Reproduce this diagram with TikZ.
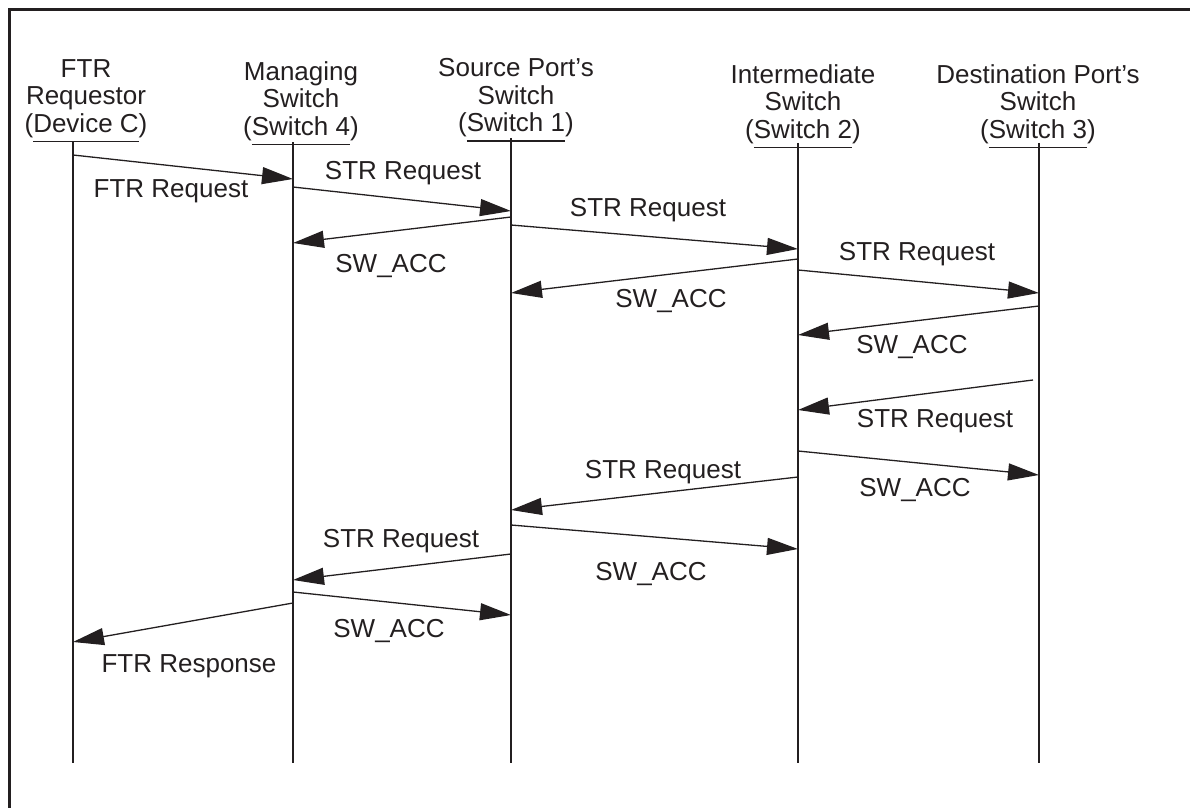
\documentclass[tikz,border=0pt]{standalone}
\usepackage{fontspec}
\setmainfont{Liberation Sans}
\usetikzlibrary{arrows.meta}
\definecolor{ink}{HTML}{231F20}
\newcommand{\undl}[1]{\setbox0\hbox{#1}\rlap{\rule[-5pt]{\wd0}{0.6pt}}\box0}

\begin{document}
\begin{tikzpicture}[x=0.5pt,y=-0.5pt,color=ink,
    head/.style={anchor=north,align=center,inner sep=0pt,font=\fontsize{13}{13.75}\selectfont},
    lbl/.style={anchor=base,inner sep=0pt,font=\fontsize{13}{13.75}\selectfont},
    life/.style={line width=0.65pt},
    msg/.style={line width=0.65pt,-{Triangle[length=15.5pt,width=8.5pt]}}]
  \useasboundingbox (0,0) rectangle (1190,808);
  \draw [line width=1.5pt] (9,812) -- (9,10) -- (1194,10);

  \node [head] (hdev) at (86,59) {FTR\\Requestor\\(\undl{Device C})};
  \node [head] (hsw4) at (301,61) {Managing\\Switch\\(\undl{Switch 4})};
  \node [head] (hsw1) at (516,58) {Source Port's\\Switch\\(\undl{Switch 1})};
  \node [head] (hsw2) at (803,64) {Intermediate\\Switch\\(\undl{Switch 2})};
  \node [head] (hsw3) at (1038,64) {Destination Port's\\Switch\\(\undl{Switch 3})};

  \coordinate (dev) at (73,142.5);
  \coordinate (sw4) at (293,142.5);
  \coordinate (sw1) at (511,138);
  \coordinate (sw2) at (798,143);
  \coordinate (sw3) at (1039,143);
  \coordinate (bot) at (0,763);
  \foreach \n in {dev,sw4,sw1,sw2,sw3}
    \draw [life] (\n) -- (\n |- bot);

  \draw [msg] (dev |- 0,155) -- (sw4 |- 0,179);
  \node [lbl] (l1) at (171,198) {FTR Request};
  \draw [msg] (sw4 |- 0,187) -- (sw1 |- 0,211);
  \node [lbl] (l2) at (403,180) {STR Request};
  \draw [msg] (sw1 |- 0,217) -- (sw4 |- 0,243);
  \node [lbl] (l3) at (391,272) {SW\_ACC};
  \draw [msg] (sw1 |- 0,225) -- (sw2 |- 0,249);
  \node [lbl] (l4) at (648,217) {STR Request};
  \draw [msg] (sw2 |- 0,259) -- (sw1 |- 0,293);
  \node [lbl] (l5) at (671,307) {SW\_ACC};
  \draw [msg] (sw2 |- 0,270) -- (sw3 |- 0,293);
  \node [lbl] (l6) at (917,260) {STR Request};
  \draw [msg] (sw3 |- 0,306) -- (sw2 |- 0,335);
  \node [lbl] (l7) at (912,353) {SW\_ACC};
  \draw [msg] ([xshift=-3pt]sw3 |- 0,380) -- (sw2 |- 0,410);
  \node [lbl] (l8) at (935,427) {STR Request};
  \draw [msg] (sw2 |- 0,451) -- (sw3 |- 0,475);
  \node [lbl] (l9) at (915,496) {SW\_ACC};
  \draw [msg] (sw2 |- 0,477) -- (sw1 |- 0,510);
  \node [lbl] (l10) at (663,478) {STR Request};
  \draw [msg] (sw1 |- 0,525) -- (sw2 |- 0,549);
  \node [lbl] (l11) at (651,580) {SW\_ACC};
  \draw [msg] (sw1 |- 0,554) -- (sw4 |- 0,580);
  \node [lbl] (l12) at (401,547) {STR Request};
  \draw [msg] (sw4 |- 0,592) -- (sw1 |- 0,615);
  \node [lbl] (l13) at (389,637) {SW\_ACC};
  \draw [msg] (sw4 |- 0,603) -- (dev |- 0,642);
  \node [lbl] (l14) at (189,672) {FTR Response};
\end{tikzpicture}
\end{document}
